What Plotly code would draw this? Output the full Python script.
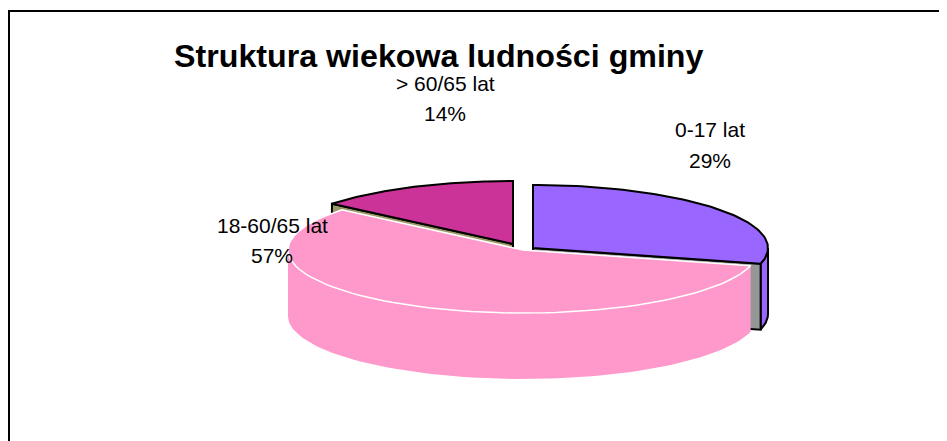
import numpy as np
import plotly.graph_objects as go

categories = ["0-17 lat", "18-60/65 lat", "> 60/65 lat"]
shares = [29, 57, 14]
title_text = "Struktura wiekowa ludności gminy"

top_colors = ["#9966FF", "#FF99CC", "#CC3399"]
cut_colors = ["#969696", "#FF99CC", "#999966"]

RX, RY, DEPTH = 235, 63, 66
apexes = [(533, 248), (523, 250), (513, 244)]
label_xy = [(710, 129, 160), (272, 225, 255), (445, 83, 113)]

fracs = np.array(shares) / sum(shares)
edges = -90 + 360 * np.concatenate([[0], np.cumsum(fracs)])


def rim(apex, a0, a1, n=80):
    t = np.radians(np.linspace(a0, a1, n))
    return apex[0] + RX * np.cos(t), apex[1] + RY * np.sin(t)


def poly(x, y, fill, line=None, width=0):
    x, y = list(x), list(y)
    return go.Scatter(
        x=x + x[:1], y=y + y[:1], mode="lines", fill="toself", fillcolor=fill,
        line=dict(color=line or fill, width=width if line else 0),
        hoverinfo="skip", showlegend=False,
    )


fig = go.Figure()

# purple: outer wall (front right part) and cut wall
ax, ay = apexes[0]
rx, ry = rim(apexes[0], 0, edges[1])
fig.add_trace(poly(np.r_[rx, rx[::-1]], np.r_[ry, ry[::-1] + DEPTH], top_colors[0], "#000000", 2))
cx, cy = rim(apexes[0], edges[1], edges[1], 1)
fig.add_trace(poly([ax, cx[0], cx[0], ax], [ay, cy[0], cy[0] + DEPTH, ay + DEPTH],
                   cut_colors[0], "#000000", 2))

# magenta: cut wall visible above the pink slice
ax, ay = apexes[2]
cx, cy = rim(apexes[2], edges[2], edges[2], 1)
fig.add_trace(poly([ax, cx[0], cx[0], ax], [ay, cy[0], cy[0] + DEPTH, ay + DEPTH],
                   cut_colors[2], "#000000", 2))

# pink: visible wall (front half only) and top surface
ax, ay = apexes[1]
wx, wy = rim(apexes[1], edges[1], 180)
fig.add_trace(poly(np.r_[wx, wx[::-1]], np.r_[wy, wy[::-1] + DEPTH], top_colors[1]))
rx, ry = rim(apexes[1], edges[1], edges[2])
fig.add_trace(poly(np.r_[ax, rx], np.r_[ay, ry], top_colors[1], "#FFFFFF", 1.5))

# purple and magenta top surfaces
for i in (0, 2):
    rx, ry = rim(apexes[i], edges[i], edges[i + 1])
    ax, ay = apexes[i]
    fig.add_trace(poly(np.r_[ax, rx], np.r_[ay, ry], top_colors[i], "#000000", 2))

# labels
for name, share, (lx, y1, y2) in zip(categories, shares, label_xy):
    for text, ly in ((name, y1), (f"{share}%", y2)):
        fig.add_annotation(x=lx, y=ly, text=text, showarrow=False,
                           font=dict(family="Liberation Sans", size=21, color="#000000"),
                           xanchor="center", yanchor="middle")

fig.add_annotation(x=438.5, y=56, text=f"<b>{title_text}</b>", showarrow=False,
                   font=dict(family="Liberation Sans", size=32.2, color="#000000"),
                   xanchor="center", yanchor="middle")

fig.update_layout(
    width=939, height=433, margin=dict(l=0, r=0, t=0, b=0),
    paper_bgcolor="#FFFFFF", plot_bgcolor="#FFFFFF", showlegend=False,
    xaxis=dict(range=[8, 947], visible=False, fixedrange=True),
    yaxis=dict(range=[441, 8], visible=False, fixedrange=True),
    shapes=[dict(type="rect", xref="x", yref="y", x0=9, y0=11, x1=960, y1=460,
                 line=dict(color="#000000", width=2), layer="below")],
)
fig.write_html("out.html", config={"displayModeBar": False})
